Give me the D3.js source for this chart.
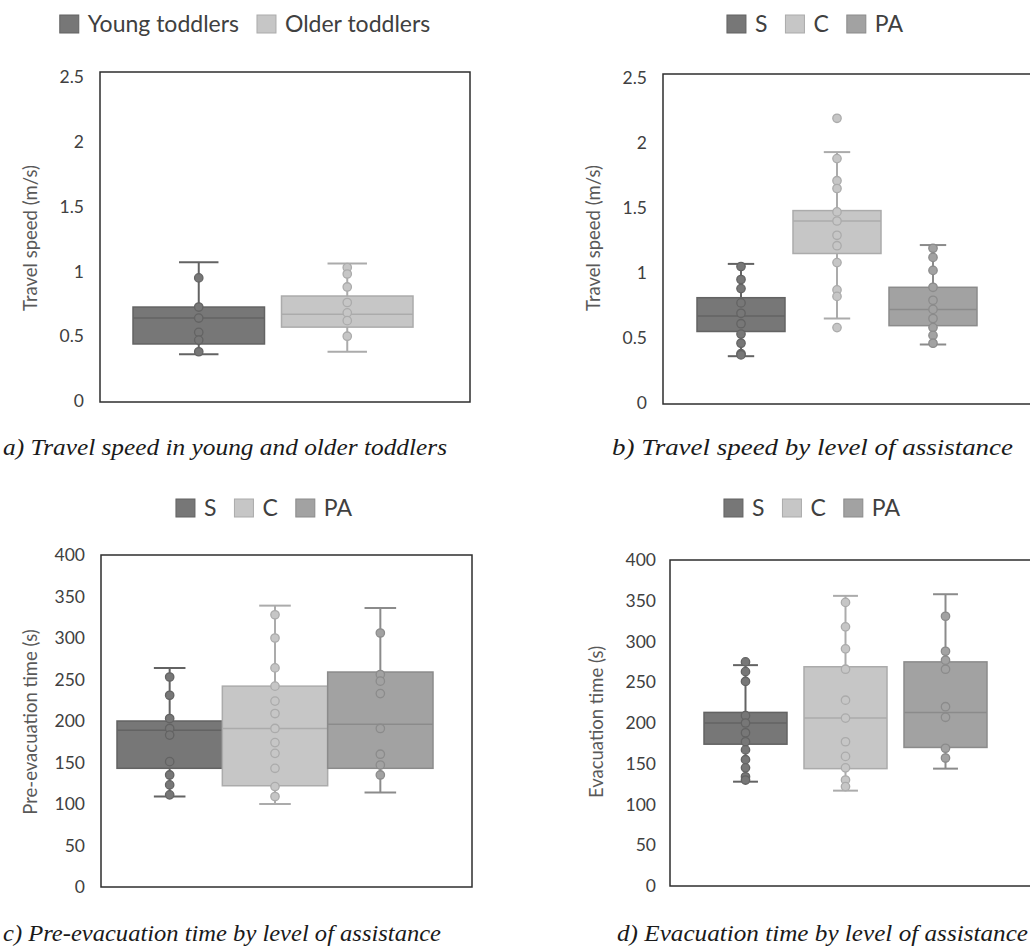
<!DOCTYPE html>
<html>
<head>
<meta charset="utf-8">
<script src="https://cdn.jsdelivr.net/npm/d3@7"></script>
<style>
  body { margin: 0; background: #fff; }
  svg { display: block; }
  .tick text { font-family: Lato, "Open Sans", sans-serif; fill: #404040; }
</style>
</head>
<body>
<svg width="1030" height="949"></svg>
<script>
// ---- data ----
var ageGroups = ["Young toddlers", "Older toddlers"];
var assistGroups = ["S", "C", "PA"];

// box stats: [low whisker, q1, median, q3, high whisker]
var speedAgeStats = [[0.36, 0.44, 0.64, 0.725, 1.07], [0.38, 0.57, 0.67, 0.81, 1.06]];
var speedAgePoints = [
  [0.95, 0.725, 0.64, 0.53, 0.47, 0.38],
  [1.03, 0.98, 0.88, 0.76, 0.68, 0.62, 0.50]
];

var speedAssistStats = [[0.36, 0.55, 0.67, 0.81, 1.07], [0.65, 1.15, 1.40, 1.48, 1.93], [0.45, 0.595, 0.72, 0.89, 1.215]];
var speedAssistPoints = [
  [1.05, 0.95, 0.88, 0.77, 0.69, 0.61, 0.53, 0.46, 0.38, 0.37],
  [2.19, 1.88, 1.71, 1.65, 1.47, 1.40, 1.29, 1.21, 1.08, 0.87, 0.82, 0.58],
  [1.19, 1.12, 1.02, 0.89, 0.79, 0.72, 0.65, 0.58, 0.52, 0.46]
];

var preEvacStats = [[109, 143, 189, 200, 264], [100, 122, 191, 242, 339], [114, 143, 196, 259, 336]];
var preEvacPoints = [
  [253, 231, 203, 191, 183, 151, 135, 123, 111],
  [328, 300, 264, 242, 224, 209, 191, 174, 161, 143, 121, 109],
  [306, 256, 248, 233, 191, 160, 147, 135]
];

var evacStats = [[128, 174, 200, 213, 271], [117, 144, 206, 269, 356], [144, 170, 213, 275, 358]];
var evacPoints = [
  [275, 263, 251, 209, 200, 188, 177, 167, 155, 145, 134, 130],
  [348, 318, 291, 266, 228, 206, 177, 159, 145, 130, 122],
  [331, 288, 277, 266, 220, 207, 169, 157]
];

var speedTicks = [0, 0.5, 1, 1.5, 2, 2.5];
var timeTicks = [0, 50, 100, 150, 200, 250, 300, 350, 400];

var captions = [
  "a) Travel speed in young and older toddlers",
  "b) Travel speed by level of assistance",
  "c) Pre-evacuation time by level of assistance",
  "d) Evacuation time by level of assistance"
];
var yTitles = ["Travel speed (m/s)", "Travel speed (m/s)", "Pre-evacuation time (s)", "Evacuation time (s)"];

// ---- styles ----
var fills = ["#777777", "#c6c6c6", "#a2a2a2"];
var strokes = ["#636363", "#ababab", "#8b8b8b"];
var uiFont = "Lato, 'Open Sans', sans-serif";
var serifFont = "'Times New Roman', Times, 'Liberation Serif', serif";

// ---- layout of the four panels ----
var panels = [
  { cats: ageGroups, stats: speedAgeStats, pts: speedAgePoints, ticks: speedTicks, max: 2.5,
    frame: [100, 72, 470, 402], yr: [401, 77], band: [133, 413], pad: 0.1145,
    legendX: 245, legendY: 24, titleX: 31, titleY: 238, capX: 3, capY: 455, capW: 444 },
  { cats: assistGroups, stats: speedAssistStats, pts: speedAssistPoints, ticks: speedTicks, max: 2.5,
    frame: [663, 74, 1040, 404], yr: [403, 78], band: [697, 977], pad: 0.0833,
    legendX: 815, legendY: 24, titleX: 594, titleY: 238, capX: 612, capY: 455, capW: 401 },
  { cats: assistGroups, stats: preEvacStats, pts: preEvacPoints, ticks: timeTicks, max: 400,
    frame: [101, 555, 472, 887], yr: [887, 555], band: [117, 433], pad: 0,
    legendX: 264, legendY: 508, titleX: 31, titleY: 722, capX: 3, capY: 941, capW: 438 },
  { cats: assistGroups, stats: evacStats, pts: evacPoints, ticks: timeTicks, max: 400,
    frame: [670, 560, 1040, 886], yr: [886, 560], band: [704, 987], pad: 0.17,
    legendX: 812, legendY: 508, titleX: 597, titleY: 722, capX: 617, capY: 941, capW: 411 }
];

var svg = d3.select("svg");

panels.forEach(function (p, pi) {
  var g = svg.append("g").attr("class", "panel");
  var y = d3.scaleLinear().domain([0, p.max]).range(p.yr);
  var x = d3.scaleBand().domain(p.cats).range(p.band).paddingInner(p.pad).paddingOuter(0);
  var bw = x.bandwidth();
  var capHalf = bw * 0.15;

  // frame
  g.append("rect")
    .attr("x", p.frame[0]).attr("y", p.frame[1])
    .attr("width", p.frame[2] - p.frame[0]).attr("height", p.frame[3] - p.frame[1])
    .attr("fill", "none").attr("stroke", "#2e2e2e").attr("stroke-width", 1.5);

  // y axis labels
  var axis = d3.axisLeft(y).tickValues(p.ticks).tickSize(0).tickPadding(pi == 3 ? 14 : 16)
    .tickFormat(d3.format("~g"));
  var ax = g.append("g").attr("transform", "translate(" + p.frame[0] + ",0)").call(axis);
  ax.select(".domain").remove();
  ax.selectAll("text").style("font-size", "17.5px");

  // y title
  g.append("text")
    .attr("transform", "translate(" + p.titleX + "," + p.titleY + ") rotate(-90)")
    .attr("text-anchor", "middle").attr("dy", "0.35em")
    .style("font-family", uiFont).style("font-size", "18.5px").style("fill", "#595959")
    .text(yTitles[pi]);

  // boxes
  var box = g.selectAll("g.box")
    .data(p.cats.map(function (c, i) { return { cat: c, s: p.stats[i], pts: p.pts[i], i: i }; }))
    .enter().append("g").attr("class", "box");

  box.append("line") // whisker
    .attr("x1", function (d) { return x(d.cat) + bw / 2; })
    .attr("x2", function (d) { return x(d.cat) + bw / 2; })
    .attr("y1", function (d) { return y(d.s[0]); })
    .attr("y2", function (d) { return y(d.s[4]); })
    .attr("stroke", function (d) { return strokes[d.i]; }).attr("stroke-width", 2);

  box.selectAll("line.cap")
    .data(function (d) { return [d.s[0], d.s[4]].map(function (v) { return { v: v, d: d }; }); })
    .enter().append("line").attr("class", "cap")
    .attr("x1", function (c) { return x(c.d.cat) + bw / 2 - capHalf; })
    .attr("x2", function (c) { return x(c.d.cat) + bw / 2 + capHalf; })
    .attr("y1", function (c) { return y(c.v); })
    .attr("y2", function (c) { return y(c.v); })
    .attr("stroke", function (c) { return strokes[c.d.i]; }).attr("stroke-width", 2);

  box.append("rect")
    .attr("x", function (d) { return x(d.cat); })
    .attr("width", bw)
    .attr("y", function (d) { return y(d.s[3]); })
    .attr("height", function (d) { return y(d.s[1]) - y(d.s[3]); })
    .attr("fill", function (d) { return fills[d.i]; })
    .attr("stroke", function (d) { return strokes[d.i]; }).attr("stroke-width", 1.5);

  box.append("line") // median
    .attr("x1", function (d) { return x(d.cat); })
    .attr("x2", function (d) { return x(d.cat) + bw; })
    .attr("y1", function (d) { return y(d.s[2]); })
    .attr("y2", function (d) { return y(d.s[2]); })
    .attr("stroke", function (d) { return strokes[d.i]; }).attr("stroke-width", 1.5);

  box.selectAll("circle")
    .data(function (d) { return d.pts.map(function (v) { return { v: v, d: d }; }); })
    .enter().append("circle")
    .attr("cx", function (c) { return x(c.d.cat) + bw / 2; })
    .attr("cy", function (c) { return y(c.v); })
    .attr("r", 4.2)
    .attr("fill", function (c) { return fills[c.d.i]; })
    .attr("stroke", function (c) { return strokes[c.d.i]; }).attr("stroke-width", 1.3);

  // legend
  var leg = g.append("g");
  var cursor = 0;
  p.cats.forEach(function (c, i) {
    leg.append("rect").attr("x", cursor).attr("y", -9).attr("width", 19).attr("height", 18)
      .attr("fill", fills[i]).attr("stroke", strokes[i]).attr("stroke-width", 1);
    var t = leg.append("text").attr("x", cursor + 28).attr("y", 0).attr("dy", "0.35em")
      .style("font-family", uiFont).style("font-size", "23px").style("fill", "#404040")
      .text(c);
    cursor += 28 + t.node().getComputedTextLength() + 18;
  });
  var legW = cursor - 18;
  leg.attr("transform", "translate(" + (p.legendX - legW / 2) + "," + p.legendY + ")");

  // caption
  g.append("text")
    .attr("x", p.capX).attr("y", p.capY)
    .attr("textLength", p.capW).attr("lengthAdjust", "spacingAndGlyphs")
    .style("font-family", serifFont)
    .style("font-style", "italic").style("font-size", "24px").style("fill", "#1a1a1a")
    .text(captions[pi]);
});
</script>
</body>
</html>
